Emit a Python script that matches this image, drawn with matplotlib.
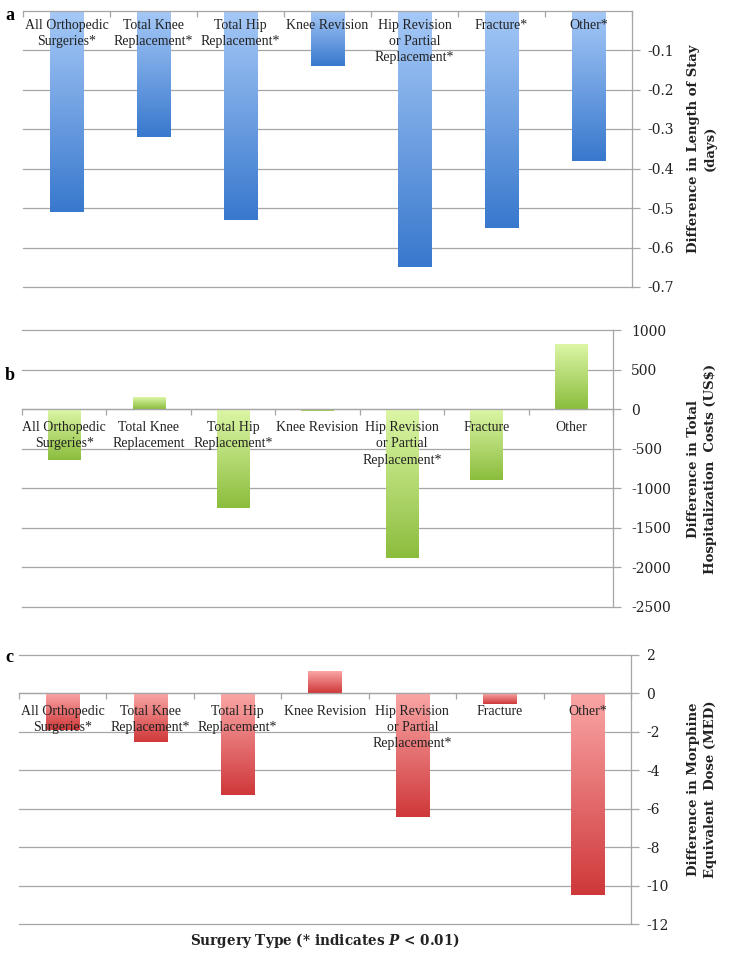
import numpy as np
import matplotlib
matplotlib.use("Agg")
import matplotlib.pyplot as plt
from matplotlib.colors import LinearSegmentedColormap

plt.rcParams['font.family'] = ['DejaVu Serif']
plt.rcParams['axes.unicode_minus'] = False
plt.rcParams['mathtext.fontset'] = 'custom'
plt.rcParams['mathtext.it'] = 'DejaVu Serif:italic:bold'
plt.rcParams['mathtext.rm'] = 'DejaVu Serif:bold'

# ---------------- data ----------------
labels_a = ["All Orthopedic\nSurgeries*", "Total Knee\nReplacement*", "Total Hip\nReplacement*",
            "Knee Revision", "Hip Revision\nor Partial\nReplacement*", "Fracture*", "Other*"]
labels_b = ["All Orthopedic\nSurgeries*", "Total Knee\nReplacement", "Total Hip\nReplacement*",
            "Knee Revision", "Hip Revision\nor Partial\nReplacement*", "Fracture", "Other"]
labels_c = ["All Orthopedic\nSurgeries*", "Total Knee\nReplacement*", "Total Hip\nReplacement*",
            "Knee Revision", "Hip Revision\nor Partial\nReplacement*", "Fracture", "Other*"]

los_days = [-0.51, -0.32, -0.53, -0.14, -0.65, -0.55, -0.38]
cost_usd = [-640, 140, -1250, -25, -1880, -890, 820]
med_dose = [-1.9, -2.55, -5.3, 1.1, -6.45, -0.57, -10.5]

ticks_a = [-0.1, -0.2, -0.3, -0.4, -0.5, -0.6, -0.7]
ticklabels_a = ["-0.1", "-0.2", "-0.3", "-0.4", "-0.5", "-0.6", "-0.7"]
ticks_b = [1000, 500, 0, -500, -1000, -1500, -2000, -2500]
ticklabels_b = ["1000", "500", "0", "-500", "-1000", "-1500", "-2000", "-2500"]
ticks_c = [2, 0, -2, -4, -6, -8, -10, -12]
ticklabels_c = ["2", "0", "-2", "-4", "-6", "-8", "-10", "-12"]

ylabel_a = "Difference in Length of Stay\n(days)"
ylabel_b = "Difference in Total\nHospitalization  Costs (US$)"
ylabel_c = "Difference in Morphine\nEquivalent  Dose (MED)"
xlabel_c = r"Surgery Type (* indicates $P$ < 0.01)"

GRID = "#a6a6a6"
TXT = "#222222"

W, H = 734, 958
fig = plt.figure(figsize=(W / 100, H / 100), dpi=100)


def px_axes(left, right, top, bottom):
    return fig.add_axes([left / W, 1 - bottom / H, (right - left) / W, (bottom - top) / H])


def panel(ax, vals, labels, ticks, ticklabels, ylim, c_top, c_bot, label_off, ylabel, pad):
    n = len(vals)
    x = np.arange(n)
    bars = ax.bar(x, vals, width=0.38, color='none', edgecolor='none')
    cmap = LinearSegmentedColormap.from_list('g', [c_bot, c_top])
    grad = np.linspace(0, 1, 256).reshape(-1, 1)
    for p in bars.patches:
        x0, w = p.get_x(), p.get_width()
        y0, h = p.get_y(), p.get_height()
        lo, hi = min(y0, y0 + h), max(y0, y0 + h)
        ax.imshow(grad, extent=[x0, x0 + w, lo, hi], origin='lower', cmap=cmap,
                  aspect='auto', zorder=2, interpolation='bilinear')
    ax.set_xlim(-0.5, n - 0.5)
    ax.set_ylim(*ylim)
    # grid
    ax.set_yticks(ticks)
    ax.set_yticklabels(ticklabels)
    ax.yaxis.tick_right()
    ax.grid(axis='y', color=GRID, linewidth=0.9, zorder=0.5)
    for gl in ax.get_ygridlines():
        gl.set_clip_on(False)
    ax.set_axisbelow(True)
    ax.tick_params(axis='y', length=6, color=GRID, width=0.9, pad=pad,
                   labelsize=10, labelcolor=TXT)
    for s in ['left', 'top']:
        ax.spines[s].set_visible(False)
    ax.spines['right'].set_color(GRID)
    ax.spines['right'].set_linewidth(0.9)
    ax.spines['bottom'].set_position(('data', 0))
    ax.spines['bottom'].set_color(GRID)
    ax.spines['bottom'].set_linewidth(0.9)
    ax.set_xticks([])
    ax.set_xticks(np.arange(n + 1) - 0.5, minor=True)
    ax.tick_params(axis='x', which='minor', direction='out', length=4, color=GRID,
                   width=0.9, labelbottom=False)
    for i, lab in enumerate(labels):
        ax.annotate(lab, xy=(i, 0), xytext=(0, -label_off), textcoords='offset points',
                    ha='center', va='top', fontsize=10, color=TXT, linespacing=1.33,
                    family='Liberation Serif', zorder=6, annotation_clip=False)
    pos = ax.get_position()
    fig.text(702 / W, (pos.y0 + pos.y1) / 2, ylabel, rotation=90, ha='center', va='center',
             multialignment='center', fontsize=9.5, fontweight='bold', color=TXT,
             linespacing=1.4)


ax_a = px_axes(23, 632, 10.5, 287)
panel(ax_a, los_days, labels_a, ticks_a, ticklabels_a, (-0.7, 0),
      "#a6c9f7", "#3878cd", 6, ylabel_a, 5)

ax_b = px_axes(22, 613, 330, 607)
panel(ax_b, cost_usd, labels_b, ticks_b, ticklabels_b, (-2500, 1000),
      "#dcf6a6", "#8bbd3d", 8.5, ylabel_b, 7)

ax_c = px_axes(19, 631, 655, 924)
panel(ax_c, med_dose, labels_c, ticks_c, ticklabels_c, (-12, 2),
      "#faa6a6", "#cf383a", 8, ylabel_c, 5)

fig.text(325 / W, 1 - 940 / H, xlabel_c, ha='center', va='center', fontsize=9.8,
         fontweight='bold', color=TXT)

for letter, yy in [("a", 15), ("b", 375), ("c", 657)]:
    fig.text(5 / W, 1 - yy / H, letter, ha='left', va='center', fontsize=13,
             fontweight='bold', family='Liberation Serif', color='black')

fig.savefig("out.png", dpi=100)
